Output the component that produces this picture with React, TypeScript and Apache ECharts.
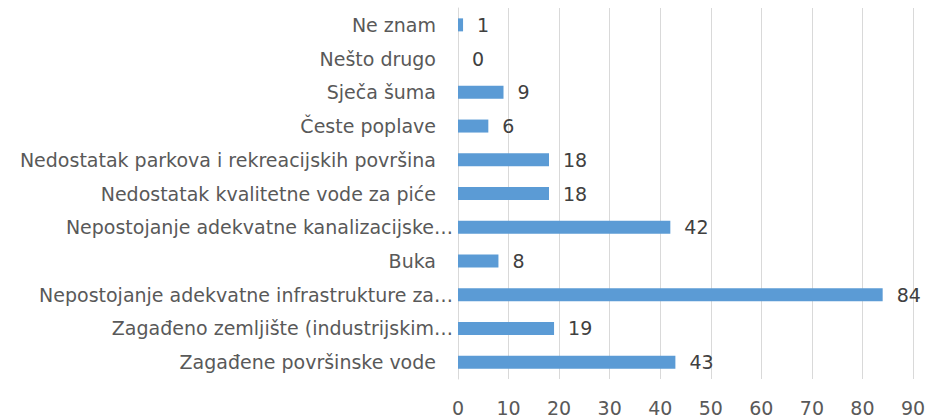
import React, { useEffect, useRef } from "react";
import * as echarts from "echarts";

const categories = [
  "Zagađene površinske vode",
  "Zagađeno zemljište (industrijskim…",
  "Nepostojanje adekvatne infrastrukture za…",
  "Buka",
  "Nepostojanje adekvatne kanalizacijske…",
  "Nedostatak kvalitetne vode za piće",
  "Nedostatak parkova i rekreacijskih površina",
  "Česte poplave",
  "Sječa šuma",
  "Nešto drugo",
  "Ne znam",
];
const values = [43, 19, 84, 8, 42, 18, 18, 6, 9, 0, 1];
const xTicks = { min: 0, max: 90, interval: 10 };

const FONT = "DejaVu Sans";

export default function App() {
  const ref = useRef<HTMLDivElement>(null);
  useEffect(() => {
    if (!ref.current) return;
    const chart = echarts.init(ref.current, undefined, { renderer: "svg" });
    chart.setOption({
      animation: false,
      grid: { left: 458, right: 17, top: 8, bottom: 38, containLabel: false },
      xAxis: {
        type: "value",
        min: xTicks.min,
        max: xTicks.max,
        interval: xTicks.interval,
        axisLine: { show: false },
        axisTick: { show: false },
        splitLine: { show: true, lineStyle: { color: "#d9d9d9", width: 1 } },
        axisLabel: { color: "#595959", fontSize: 19, fontFamily: FONT, margin: 19 },
      },
      yAxis: {
        type: "category",
        data: categories,
        axisLine: { show: true, lineStyle: { color: "#d9d9d9" } },
        axisTick: { show: false },
        axisLabel: {
          color: "#595959",
          fontSize: 19,
          fontFamily: FONT,
          margin: 5,
          formatter: (v: string) => (v.endsWith("…") ? `{t|${v}}` : `{n|${v}}`),
          rich: {
            n: { color: "#595959", fontSize: 19, fontFamily: FONT, padding: [0, 17, 0, 0] },
            t: { color: "#595959", fontSize: 19, fontFamily: FONT },
          },
        },
      },
      series: [
        {
          type: "bar",
          data: values,
          barWidth: 13,
          itemStyle: { color: "#5B9BD5" },
          label: {
            show: true,
            position: "right",
            distance: 14,
            color: "#404040",
            fontSize: 19,
            fontFamily: FONT,
          },
        },
      ],
    });
    return () => chart.dispose();
  }, []);
  return <div ref={ref} style={{ width: 930, height: 417, position: "absolute", left: 0, top: 0 }} />;
}
